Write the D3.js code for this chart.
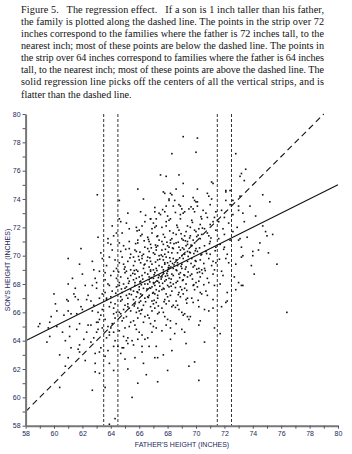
<!DOCTYPE html>
<html>
<head>
<meta charset="utf-8">
<script src="https://cdn.jsdelivr.net/npm/d3@7"></script>
<style>
  body { margin: 0; background: #fff; }
  svg { display: block; }
</style>
</head>
<body>
<svg id="canvas" width="352" height="454"></svg>
<script>
// caption lines (last one is not justified)
const captionLines = [
  'Figure 5.   The regression effect.   If a son is 1 inch taller than his father,',
  'the family is plotted along the dashed line. The points in the strip over 72',
  'inches correspond to the families where the father is 72 inches tall, to the',
  'nearest inch; most of these points are below the dashed line. The points in',
  'the strip over 64 inches correspond to families where the father is 64 inches',
  'tall, to the nearest inch; most of these points are above the dashed line. The',
  'solid regression line picks off the centers of all the vertical strips, and is',
  'flatter than the dashed line.'
]

const axisRange = [58, 80]
const tickLabels = [58, 60, 62, 64, 66, 68, 70, 72, 74, 76, 78, 80]
const stripEdges = [63.5, 64.5, 71.5, 72.5]
const identityLine = [[58, 59], [79, 80]]       // son = father + 1
const regressionLine = [[58, 64], [80, 75]]     // son = 35 + 0.5 * father

// [father, son] heights
const families = [
  [63.05,74.3],[61.0,69.8],[61.0,68.0],[61.5,67.1],[61.7,66.9],[60.1,66.6],[61.0,66.1],[61.2,65.9],
  [59.0,65.2],[59.6,64.9],[60.2,65.0],[59.5,63.9],[61.1,65.0],[61.1,64.3],[61.8,65.2],[61.8,63.7],
  [61.8,63.2],[60.8,62.2],[60.4,60.7],[62.9,61.8],[62.7,60.5],[63.6,60.7],[63.9,58.1],[64.3,58.5],
  [60.0,67.3],[61.5,67.7],[61.0,66.8],[59.7,65.3],[58.9,65.0],
  [69.1,78.4],[70.1,78.3],[68.3,77.2],[70.0,77.3],[67.5,75.7],[67.9,75.6],[68.8,75.7],[69.1,75.1],
  [65.9,74.7],[68.6,74.7],[67.7,74.5],[67.8,74.4],[68.2,74.4],[68.1,74.0],[68.5,73.9],[70.8,74.4],
  [70.9,74.2],[69.9,73.9],[70.1,73.8],[64.6,73.9],[67.9,73.5],[68.9,73.5],[69.5,73.3],[69.8,73.3],
  [67.1,73.1],[70.5,73.2],[67.5,72.9],[66.8,72.6],[67.2,72.6],[64.6,72.6],[64.7,72.4],[65.3,71.9],
  [66.2,72.1],[64.2,71.4],[63.8,70.9],
  [72.8,77.2],[73.5,76.1],[73.1,75.6],[73.4,75.3],[74.7,74.3],[75.2,73.8],[71.2,75.1],[72.4,74.6],
  [72.1,73.9],[72.6,73.9],[74.9,71.7],[75.0,71.4],[74.5,70.9],[73.1,71.2],[73.3,73.0],[73.0,73.5],
  [74.0,70.3],[74.0,70.0],[73.2,69.9],[73.2,75.8],[72.1,74.6],
  [73.3,67.9],[73.0,68.1],[72.8,67.6],[72.1,66.7],[71.8,66.4],[71.2,66.3],[70.9,66.1],[69.4,65.7],
  [69.1,65.8],[69.5,65.5],[70.3,65.4],[71.3,64.9],[71.7,64.5],[69.0,64.8],[70.6,63.9],[69.9,62.5],
  [69.5,62.2],[70.2,61.2],[75.7,69.4],[76.4,66.0],
  [65.5,60.0],[65.9,61.0],[67.3,61.1],[66.5,61.6],[68.0,61.9],[65.2,62.0],[63.9,62.4],[63.2,61.7],
  [65.7,62.8],[67.1,62.8],[67.7,63.0],[63.2,63.2],[64.9,63.5],[66.2,63.6],[66.7,63.6],[64.5,63.6],
  [65.5,64.0],[66.4,64.1],[68.2,64.9],[68.5,64.5],[65.2,64.2],[63.0,65.3],[63.1,64.8],[63.9,64.4],
  [64.2,64.6],
  [60.6,64.6],[60.9,66.9],[61.2,63.5],[61.4,67.3],[60.7,65.8],[61.0,62.8],[61.3,68.4],[60.8,64.0],
  [59.7,64.3],[60.2,66.1],[60.4,63.0],[59.8,65.7],
  [61.6,64.8],[61.9,66.4],[62.2,67.9],[62.4,65.1],[61.7,63.4],[62.0,68.7],[62.3,66.9],[61.8,69.4],
  [62.1,64.1],[62.4,67.2],[61.6,65.9],[62.2,62.6],[62.0,66.2],[61.9,70.5],[62.3,64.6],
  [62.6,66.8],[62.8,64.2],[63.0,68.1],[63.2,65.5],[63.4,67.3],[62.7,69.6],[62.9,63.1],[63.1,66.0],
  [63.3,70.2],[62.6,65.1],[63.0,67.7],[63.4,64.9],[62.8,66.5],[63.2,68.9],[62.9,62.4],[63.3,65.8],
  [62.7,67.9],[63.1,71.3],[63.4,66.2],[62.6,63.9],[63.0,64.6],[63.2,67.0],[62.8,69.0],[63.3,63.5],
  [62.9,68.4],[63.1,65.3],[62.7,66.1],[63.4,69.8],
  [63.6,67.4],[63.8,65.0],[64.0,68.6],[64.2,66.3],[64.4,69.1],[63.7,64.2],[63.9,67.9],[64.1,70.4],
  [64.3,65.6],[63.6,68.3],[64.0,66.7],[64.2,63.6],[64.4,67.8],[63.8,71.2],[64.1,65.2],[63.7,66.9],
  [64.3,69.7],[63.9,64.6],[64.0,67.1],[64.2,68.9],[63.6,62.9],[64.4,66.0],[63.8,68.0],[64.1,72.1],
  [64.3,64.0],[63.7,69.3],[63.9,66.4],[64.2,65.9],[64.0,70.8],[63.6,65.5],[64.4,68.4],[63.8,63.3],
  [64.1,67.5],[64.3,66.6],[63.7,67.0],[63.9,69.9],[64.2,61.9],[64.0,64.9],[64.4,71.6],[63.6,68.8],
  [64.6,67.9],[64.8,65.4],[65.0,69.2],[65.2,66.6],[65.4,70.1],[64.7,68.5],[64.9,64.3],[65.1,67.2],
  [65.3,71.0],[64.6,66.0],[65.0,68.8],[65.2,63.8],[65.4,67.6],[64.8,69.9],[65.1,65.7],[64.7,66.8],
  [65.3,68.2],[64.9,70.7],[65.0,64.9],[65.2,67.0],[64.6,69.5],[65.4,65.3],[64.8,67.4],[65.1,72.3],
  [65.3,66.3],[64.7,63.1],[64.9,68.0],[65.2,69.6],[65.0,66.5],[64.6,64.7],[65.4,68.6],[64.8,71.6],
  [65.1,67.8],[65.3,65.0],[64.7,70.3],[64.9,66.2],[65.2,68.4],[65.0,62.7],[64.6,68.1],[65.4,69.0],
  [64.8,66.9],[65.1,64.0],[65.3,67.3],[64.7,65.9],[64.9,69.4],[65.2,73.0],[65.0,67.7],[64.6,70.9],
  [65.4,66.1],[64.8,63.5],[65.1,68.9],[65.3,70.5],[64.7,67.1],[64.9,65.6],[65.2,66.4],
  [65.6,68.3],[65.8,66.0],[66.0,69.7],[66.2,67.2],[66.4,70.6],[65.7,65.1],[65.9,68.9],[66.1,71.4],
  [66.3,66.5],[65.6,69.3],[66.0,67.6],[66.2,64.4],[66.4,68.0],[65.8,72.0],[66.1,66.8],[65.7,67.9],
  [66.3,70.1],[65.9,65.6],[66.0,68.5],[66.2,69.8],[65.6,63.7],[66.4,67.0],[65.8,69.0],[66.1,73.1],
  [66.3,65.3],[65.7,70.4],[65.9,67.4],[66.2,66.2],[66.0,71.8],[65.6,66.9],[66.4,69.4],[65.8,64.8],
  [66.1,68.2],[66.3,67.7],[65.7,68.7],[65.9,70.9],[66.2,63.2],[66.0,66.1],[66.4,72.4],[65.6,69.9],
  [65.8,67.1],[66.1,65.9],[66.3,69.1],[65.7,66.6],[65.9,71.1],[66.2,68.6],[66.0,64.6],[66.4,65.7],
  [65.6,67.5],[65.8,70.3],[66.1,69.5],[66.3,62.4],[65.7,68.1],[65.9,66.3],[66.2,71.5],[66.0,67.8],
  [66.4,68.8],[65.6,65.4],[65.8,68.4],[66.1,67.3],[66.3,74.0],[65.7,69.6],[65.9,64.1],[66.2,70.0],
  [66.0,66.7],
  [66.6,68.7],[66.8,66.4],[67.0,70.2],[67.2,67.6],[67.4,71.1],[66.7,65.6],[66.9,69.4],[67.1,72.0],
  [67.3,67.0],[66.6,69.9],[67.0,68.1],[67.2,64.9],[67.4,68.6],[66.8,72.6],[67.1,67.3],[66.7,68.3],
  [67.3,70.7],[66.9,66.1],[67.0,69.0],[67.2,70.4],[66.6,64.2],[67.4,67.5],[66.8,69.6],[67.1,73.4],
  [67.3,65.9],[66.7,71.0],[66.9,67.8],[67.2,66.7],[67.0,72.3],[66.6,67.1],[67.4,70.0],[66.8,65.2],
  [67.1,68.8],[67.3,68.2],[66.7,69.2],[66.9,71.6],[67.2,63.6],[67.0,66.6],[67.4,73.0],[66.6,70.5],
  [66.8,67.7],[67.1,66.3],[67.3,69.7],[66.7,67.2],[66.9,71.9],[67.2,69.1],[67.0,65.0],[67.4,66.0],
  [66.6,68.0],[66.8,70.8],[67.1,70.1],[67.3,62.8],[66.7,68.5],[66.9,66.8],[67.2,72.1],[67.0,68.4],
  [67.4,69.3],[66.6,65.8],[66.8,68.9],[67.1,67.9],[67.3,71.4],[66.7,70.3],[66.9,64.6],[67.2,70.6],
  [67.0,67.4],[66.6,71.3],[67.4,68.1],[66.8,69.0],[67.1,65.4],[67.3,67.2],
  [67.6,69.2],[67.8,66.9],[68.0,70.7],[68.2,68.1],[68.4,71.6],[67.7,66.0],[67.9,69.9],[68.1,72.5],
  [68.3,67.5],[67.6,70.4],[68.0,68.6],[68.2,65.4],[68.4,69.1],[67.8,73.1],[68.1,67.8],[67.7,68.8],
  [68.3,71.2],[67.9,66.6],[68.0,69.5],[68.2,70.9],[67.6,64.7],[68.4,68.0],[67.8,70.1],[68.1,73.9],
  [68.3,66.4],[67.7,71.5],[67.9,68.3],[68.2,67.2],[68.0,72.8],[67.6,67.6],[68.4,70.5],[67.8,65.7],
  [68.1,69.3],[68.3,68.7],[67.7,69.7],[67.9,72.1],[68.2,64.1],[68.0,67.1],[68.4,73.5],[67.6,71.0],
  [67.8,68.2],[68.1,66.8],[68.3,70.2],[67.7,67.7],[67.9,72.4],[68.2,69.6],[68.0,65.5],[68.4,66.5],
  [67.6,68.5],[67.8,71.3],[68.1,70.6],[68.3,63.3],[67.7,69.0],[67.9,67.3],[68.2,72.6],[68.0,68.9],
  [68.4,69.8],[67.6,66.3],[67.8,69.4],[68.1,68.4],[68.3,74.3],[67.7,70.8],[67.9,65.1],[68.2,71.1],
  [68.0,67.9],[67.6,72.0],[68.4,68.6],[67.8,69.5],
  [68.6,69.7],[68.8,67.4],[69.0,71.2],[69.2,68.6],[69.4,72.1],[68.7,66.5],[68.9,70.4],[69.1,73.0],
  [69.3,68.0],[68.6,70.9],[69.0,69.1],[69.2,65.9],[69.4,69.6],[68.8,73.6],[69.1,68.3],[68.7,69.3],
  [69.3,71.7],[68.9,67.1],[69.0,70.0],[69.2,71.4],[68.6,65.2],[69.4,68.5],[68.8,70.6],[69.1,74.2],
  [69.3,66.9],[68.7,72.0],[68.9,68.8],[69.2,67.7],[69.0,73.3],[68.6,68.1],[69.4,71.0],[68.8,66.2],
  [69.1,69.8],[69.3,69.2],[68.7,70.2],[68.9,72.6],[69.2,64.6],[69.0,67.6],[69.4,70.8],[68.6,71.5],
  [68.8,68.7],[69.1,67.3],[69.3,70.7],[68.7,68.2],[68.9,72.9],[69.2,70.1],[69.0,66.0],[69.4,67.0],
  [68.6,69.0],[68.8,71.8],[69.1,71.1],[69.3,63.8],[68.7,69.5],[68.9,67.8],[69.2,73.1],[69.0,69.4],
  [69.4,70.3],[68.6,66.8],
  [69.6,70.2],[69.8,67.9],[70.0,71.7],[70.2,69.1],[70.4,72.6],[69.7,67.0],[69.9,70.9],[70.1,73.5],
  [70.3,68.5],[69.6,71.4],[70.0,69.6],[70.2,66.4],[70.4,70.1],[69.8,74.1],[70.1,68.8],[69.7,69.8],
  [70.3,72.2],[69.9,67.6],[70.0,70.5],[70.2,71.9],[69.6,65.7],[70.4,69.0],[69.8,71.1],[70.1,74.7],
  [70.3,67.4],[69.7,72.5],[69.9,69.3],[70.2,68.2],[70.0,73.8],[69.6,68.6],[70.4,71.5],[69.8,66.7],
  [70.1,70.3],[70.3,69.7],[69.7,70.7],[69.9,73.1],[70.2,65.1],[70.0,68.1],[70.4,67.3],[69.6,72.0],
  [69.8,69.2],[70.1,67.8],[70.3,71.2],[69.7,68.7],[69.9,71.8],
  [70.6,70.7],[70.8,68.4],[71.0,72.2],[71.2,69.6],[71.4,73.1],[70.7,67.5],[70.9,71.4],[71.1,74.0],
  [71.3,69.0],[70.6,71.9],[71.0,70.1],[71.2,66.9],[71.4,70.6],[70.8,72.7],[71.1,69.3],[70.7,70.3],
  [71.3,72.7],[70.9,68.1],[71.0,71.0],[71.2,72.4],[70.6,66.2],[71.4,69.5],[70.8,71.6],[71.1,75.2],
  [71.3,67.9],[70.7,73.0],[70.9,69.8],[71.2,68.7],[71.0,73.6],[70.6,69.1],[71.4,71.8],[70.8,67.2],
  [71.6,71.2],[71.8,68.9],[72.0,72.7],[72.2,70.1],[72.4,73.6],[71.7,68.0],[71.9,71.9],[72.1,74.5],
  [72.3,69.5],[71.6,72.4],[72.0,70.6],[72.2,67.4],[72.4,71.1],[71.8,73.2],[72.1,69.8],[71.7,70.8],
  [72.3,72.3],[71.9,68.6],[72.0,71.5],[72.2,66.8],
  [72.6,71.7],[72.8,69.4],[73.0,73.2],[73.2,70.6],[73.4,72.4],[72.7,68.5],[72.9,72.0],[73.1,74.2],
  [73.3,70.0],[72.6,72.9],[73.0,71.1],[73.2,67.9],
  [73.6,71.3],[73.9,69.3],[74.2,72.8],[74.4,70.4],[73.8,73.5],[74.1,68.7],
  [74.7,72.1],[75.1,70.2],[75.4,71.5],
  // denser core
  [65.55,68.75],[65.85,67.45],[66.05,70.25],[66.35,69.35],[66.65,67.05],[66.85,70.55],[67.05,68.65],[67.25,71.35],
  [67.45,69.75],[67.65,68.05],[67.85,70.45],[68.05,69.15],[68.25,68.35],[68.45,70.85],[68.65,68.95],[68.85,69.85],
  [69.05,68.25],[69.25,71.05],[69.45,69.95],[69.65,69.45],[69.85,70.15],[70.05,69.05],[70.25,70.55],[70.45,68.75],
  [65.65,66.45],[65.95,69.95],[66.25,68.35],[66.55,69.65],[66.75,68.15],[66.95,67.35],[67.15,69.55],[67.35,66.45],
  [67.55,70.05],[67.75,67.65],[67.95,68.75],[68.15,71.75],[68.35,69.45],[68.55,67.75],[68.75,70.95],[68.95,69.25],
  [69.15,70.45],[69.35,67.55],[69.55,71.25],[69.75,68.35],[69.95,69.65],[70.15,71.45],[70.35,70.05],[70.55,69.45],
  [70.75,70.15],[70.95,70.85],
  [64.75,67.65],[64.95,69.05],[65.25,68.05],[65.45,67.25],[65.75,70.85],[66.15,67.95],[66.45,66.75],[66.65,71.15],
  [66.85,68.45],[67.05,66.85],[67.25,68.95],[67.45,67.85],[67.65,69.95],[67.85,68.55],[68.05,70.25],[68.25,67.85],
  [68.45,69.35],[68.65,72.15],[68.85,68.45],[69.05,70.55],[69.25,69.05],[69.45,68.85],[69.65,70.75],[69.85,67.95],
  [70.05,71.35],[70.25,68.85],[70.45,71.95],
  [65.35,69.85],[65.65,68.95],[66.05,68.15],[66.35,71.05],[66.75,69.85],[67.15,70.75],[67.55,68.35],[67.95,70.95],
  [68.35,70.55],[68.75,67.25],[69.15,68.65],[69.55,70.25],[69.95,70.35],[70.35,72.75],[70.65,68.95],[71.05,71.25],
  [71.35,70.35],[71.65,69.75],[71.95,70.45],
  [66.15,66.15],[66.55,67.65],[67.35,68.45],[67.75,66.75],[68.15,69.85],[68.55,66.35],[68.95,71.55],[69.35,66.65],
  [69.75,72.35],[70.15,66.85],[70.55,67.95],[64.35,67.35],[64.55,68.85],[65.05,70.45],[65.85,71.75],[66.45,72.85],
  [67.65,73.25],[68.55,73.05],[69.65,73.45]
]

let svg = d3.select('#canvas')

// caption
let caption = svg.append('g')
    .attr('font-family', '"Liberation Serif", "Times New Roman", serif')
    .attr('font-size', 10.2)
    .attr('fill', '#111')
captionLines.forEach((line, i) => {
    let t = caption.append('text')
        .attr('x', 21)
        .attr('y', 12.5 + i * 12.15)
        .attr('xml:space', 'preserve')
        .text(line)
    if (i < captionLines.length - 1) {
        t.attr('textLength', 303).attr('lengthAdjust', 'spacing')
    }
})

let x = d3.scaleLinear().domain(axisRange).range([25.6, 338])
let y = d3.scaleLinear().domain(axisRange).range([425.7, 114])

let allTicks = d3.range(axisRange[0], axisRange[1] + 1, 1)
let fmt = (d) => tickLabels.includes(d) ? d : ''

// strips
let plot = svg.append('g')
stripEdges.forEach((v) => {
    plot.append('line')
        .attr('x1', x(v)).attr('x2', x(v))
        .attr('y1', y(80)).attr('y2', y(58))
        .attr('stroke', '#333')
        .attr('stroke-width', 1)
        .attr('stroke-dasharray', '3,2')
})

// points
plot.selectAll('rect.pt')
    .data(families)
    .enter()
    .append('rect')
    .attr('class', 'pt')
    .attr('x', (d) => x(d[0]) - 0.8)
    .attr('y', (d) => y(d[1]) - 0.8)
    .attr('width', 1.6)
    .attr('height', 1.6)
    .attr('fill', '#111')

let line = d3.line().x((d) => x(d[0])).y((d) => y(d[1]))

plot.append('path')
    .attr('d', line(identityLine))
    .attr('fill', 'none')
    .attr('stroke', '#111')
    .attr('stroke-width', 1.1)
    .attr('stroke-dasharray', '6,4')

plot.append('path')
    .attr('d', line(regressionLine))
    .attr('fill', 'none')
    .attr('stroke', '#111')
    .attr('stroke-width', 1.1)

// axes
let xAxis = svg.append('g')
    .attr('transform', 'translate(0,' + y(58) + ')')
    .call(d3.axisBottom(x).tickValues(allTicks).tickFormat(fmt).tickSize(3).tickPadding(2).tickSizeOuter(0))
let yAxis = svg.append('g')
    .attr('transform', 'translate(' + x(58) + ',0)')
    .call(d3.axisLeft(y).tickValues(allTicks).tickFormat(fmt).tickSize(3).tickPadding(2).tickSizeOuter(0))

;[xAxis, yAxis].forEach((a) => {
    a.select('.domain').attr('stroke', '#777').attr('stroke-width', 2)
    a.selectAll('.tick line').attr('stroke', '#555')
    a.selectAll('.tick text')
        .attr('font-family', '"Liberation Sans", Arial, sans-serif')
        .attr('font-size', 7)
        .attr('fill', '#24285a')
})

svg.append('text')
    .attr('x', 182)
    .attr('y', 447)
    .attr('text-anchor', 'middle')
    .attr('font-family', '"Liberation Sans", Arial, sans-serif')
    .attr('font-size', 7)
    .attr('fill', '#24285a')
    .text("FATHER'S HEIGHT (INCHES)")

svg.append('text')
    .attr('transform', 'translate(10,270) rotate(-90)')
    .attr('text-anchor', 'middle')
    .attr('font-family', '"Liberation Sans", Arial, sans-serif')
    .attr('font-size', 7)
    .attr('fill', '#24285a')
    .text("SON'S HEIGHT (INCHES)")
</script>
</body>
</html>
